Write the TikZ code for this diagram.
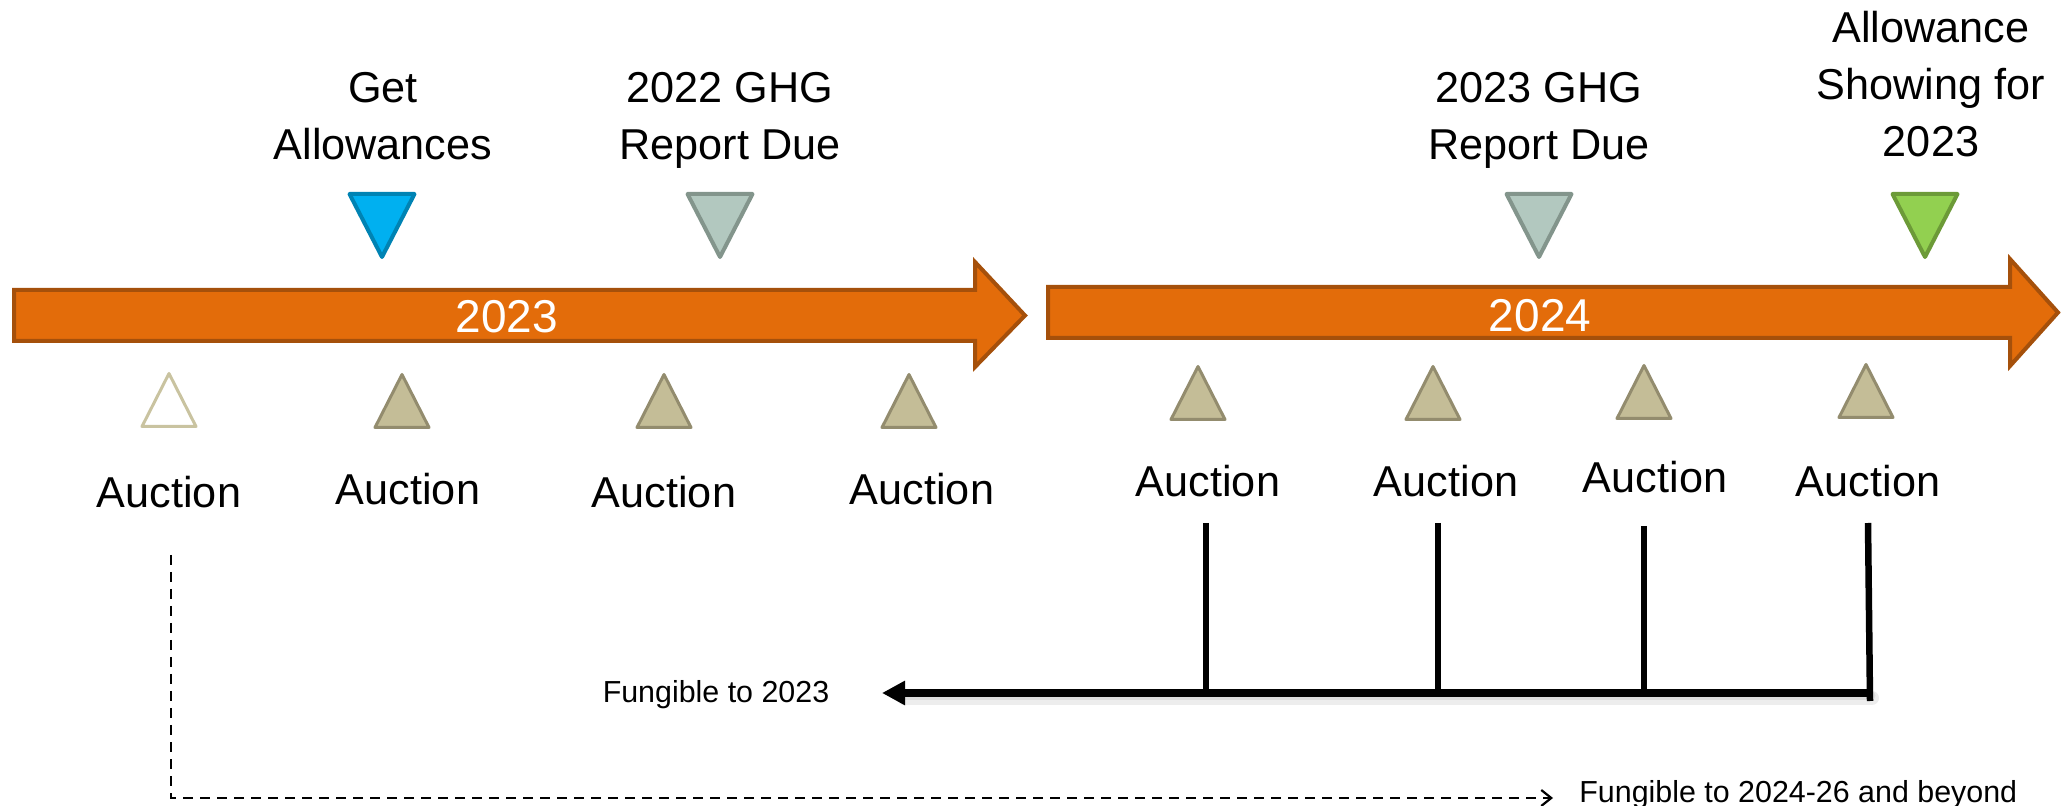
\documentclass[tikz,border=0pt]{standalone}
\usepackage{fontspec}
\setmainfont{Liberation Sans}
\usetikzlibrary{arrows.meta}

\definecolor{barfill}{HTML}{E36C0A}
\definecolor{barline}{HTML}{A5500B}
\definecolor{bluefill}{HTML}{00B0F0}
\definecolor{blueline}{HTML}{0083B3}
\definecolor{sagefill}{HTML}{B2C8BF}
\definecolor{sageline}{HTML}{83958C}
\definecolor{greenfill}{HTML}{92D050}
\definecolor{greenline}{HTML}{6C9A38}
\definecolor{tanfill}{HTML}{C4BD97}
\definecolor{tanline}{HTML}{938C6E}
\definecolor{tanpale}{HTML}{C9C3A0}

\begin{document}
\begin{tikzpicture}[
  x=0.5pt, y=-0.5pt,
  yearbar/.style={fill=barfill, draw=barline, line width=2pt, line join=miter},
  yeartext/.style={text=white, font=\fontsize{23}{27}\selectfont, anchor=base, inner sep=0pt},
  eventtext/.style={font=\fontsize{21.6}{28.5}\selectfont, align=center, anchor=base, inner sep=0pt},
  auctiontext/.style={font=\fontsize{21.6}{26}\selectfont, anchor=base, inner sep=0pt},
  notetext/.style={font=\fontsize{15.2}{18}\selectfont, anchor=base, inner sep=0pt},
  downmark/.pic={\draw[pic actions, line width=2pt, line join=round]
      (-32.5,0) -- (32.5,0) -- (0,63) -- cycle;},
  upmark/.pic={\draw[pic actions, line width=1.5pt, line join=round]
      (-27,-1.5) -- (27,-1.5) -- (0,-54.5) -- cycle;},
  auctionmark/.style={fill=tanfill, draw=tanline},
  feeder/.style={line width=3.25pt},
  fungible/.style={line width=4pt, -{Triangle[length=11.5pt, width=11.5pt]}},
  fungshadow/.style={line width=#1, draw=black, opacity=0.07, line cap=round},
  carryover/.style={line width=1.3pt, dash pattern=on 5pt off 3.5pt,
      -{Straight Barb[length=5pt, width=8pt, line width=1.1pt]}}
]
\useasboundingbox (0,0) rectangle (2062,806);

% ---- year bars ----
\draw[yearbar] (14,290) -- (975,290) -- (975,262) -- (1025,315.5) -- (975,367)
  -- (975,341) -- (14,341) -- cycle;
\draw[yearbar] (1048,287) -- (2010,287) -- (2010,259) -- (2058,312.5) -- (2010,366)
  -- (2010,338) -- (1048,338) -- cycle;
\node[yeartext] (y23) at (507,333) {2023};
\node[yeartext] (y24) at (1540,332) {2024};

% ---- milestones above the bars (base = last line) ----
\pic[fill=bluefill, draw=blueline] at (382,194) {downmark};
\pic[fill=sagefill, draw=sageline] at (720,194) {downmark};
\pic[fill=sagefill, draw=sageline] at (1539,194) {downmark};
\pic[fill=greenfill, draw=greenline] at (1925,194) {downmark};

\node[eventtext] (getallow) at (383,160) {Get\\Allowances};
\node[eventtext] (rep22) at (730,160) {2022 GHG\\Report Due};
\node[eventtext] (rep23) at (1539,160) {2023 GHG\\Report Due};
\node[eventtext] (show23) at (1931,157) {Allowance\\Showing for\\2023};

% ---- auctions below the bars ----
\pic[fill=white, draw=tanpale] at (169,428) {upmark};
\pic[auctionmark] at (402,429) {upmark};
\pic[auctionmark] at (664,429) {upmark};
\pic[auctionmark] at (909,429) {upmark};
\pic[auctionmark] at (1198,421) {upmark};
\pic[auctionmark] at (1433,421) {upmark};
\pic[auctionmark] at (1644,420) {upmark};
\pic[auctionmark] at (1866,419) {upmark};

\node[auctiontext] (au1) at (169,508) {Auction};
\node[auctiontext] (au2) at (408,505) {Auction};
\node[auctiontext] (au3) at (664,508) {Auction};
\node[auctiontext] (au4) at (922,505) {Auction};
\node[auctiontext] (au5) at (1208,497) {Auction};
\node[auctiontext] (au6) at (1446,497) {Auction};
\node[auctiontext] (au7) at (1655,493) {Auction};
\node[auctiontext] (au8) at (1868,497) {Auction};

% ---- 2024 auctions fungible back to 2023 ----
\node[notetext] (fung23) at (716,703) {Fungible to 2023};
\coordinate (s5) at (1206,523);
\coordinate (s6) at (1438,523);
\coordinate (s7) at (1644,526);
\coordinate (s8) at (1868,523);
\coordinate (j5) at (1206,693);
\coordinate (j6) at (1438,693);
\coordinate (j7) at (1644,693);
\coordinate (j8) at (1870,693);
\coordinate (fungtip) at (882,693);

\draw[fungshadow=7pt] ([shift={(2,5)}]j8) -- ([shift={(22,5)}]fungtip);
\draw[fungshadow=4.5pt] ([shift={(1,3)}]j8) -- ([shift={(22,3)}]fungtip);
\draw[feeder] (s5) -- (j5);
\draw[feeder] (s6) -- (j6);
\draw[feeder] (s7) -- (j7);
\draw[feeder] (s8) -- ([yshift=-4]j8);
\draw[fungible] (j8) -- (fungtip);

% ---- 2023 auction carried forward ----
\coordinate (c1) at (171,555);
\coordinate (c1tip) at (1553,798);
\node[notetext, anchor=base west] (fung24) at (1579,802) {Fungible to 2024-26 and beyond};
\draw[carryover] (c1) |- (c1tip);
\end{tikzpicture}
\end{document}
